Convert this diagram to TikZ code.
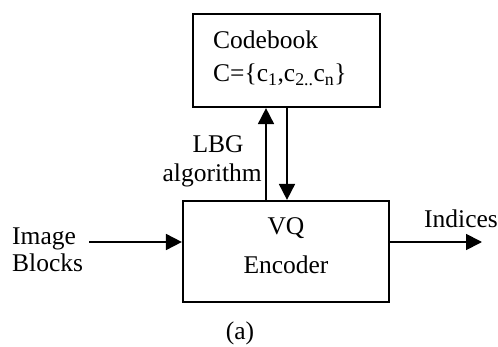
\documentclass[tikz,border=0pt]{standalone}
\usepackage{fontspec}
\setmainfont{Liberation Serif}
\usetikzlibrary{arrows.meta}
\begin{document}
\begin{tikzpicture}[x=1pt,y=-1pt,
  box/.style={draw,line width=2.2pt,inner sep=0pt},
  txt/.style={inner sep=0pt,font=\fontsize{25.5}{30}\selectfont},
  conn/.style={line width=1.8pt,-{Triangle[length=16pt,width=16pt]}}]
\useasboundingbox (0,0) rectangle (498,347);
% boxes
\node[box,minimum width=187pt,minimum height=93pt] (cb) at (286.5,60.5) {};
\node[box,minimum width=206pt,minimum height=101pt] (enc) at (286,251.5) {};
% texts
\node[txt,anchor=base west] (t1) at (213,49) {Codebook};
\node[txt,anchor=base west] (t2) at (213,82) {C=\{c\textsubscript{1},c\textsubscript{2..}c\textsubscript{n}\}};
\node[txt,anchor=base] (vq) at (286,235) {VQ};
\node[txt,anchor=base] (en) at (286,274) {Encoder};
\node[txt,anchor=base] (lbg) at (218,153) {LBG};
\node[txt,anchor=base east] (alg) at (262,182) {algorithm};
\node[txt,anchor=base west] (im) at (12,245) {Image};
\node[txt,anchor=base west] (bl) at (12,272) {Blocks};
\node[txt,anchor=base west] (ind) at (424,228) {Indices};
\node[txt,anchor=base] (cap) at (240,340) {(a)};
% connectors
\coordinate (inS) at (89,242);
\coordinate (outE) at (482,242);
\draw[conn] (inS) -- (inS -| enc.west);
\draw[conn] (enc.east |- outE) -- (outE);
\draw[conn] (enc.north -| 266,0) -- (cb.south -| 266,0);
\draw[conn] (cb.south -| 287,0) -- (enc.north -| 287,0);
\end{tikzpicture}
\end{document}
